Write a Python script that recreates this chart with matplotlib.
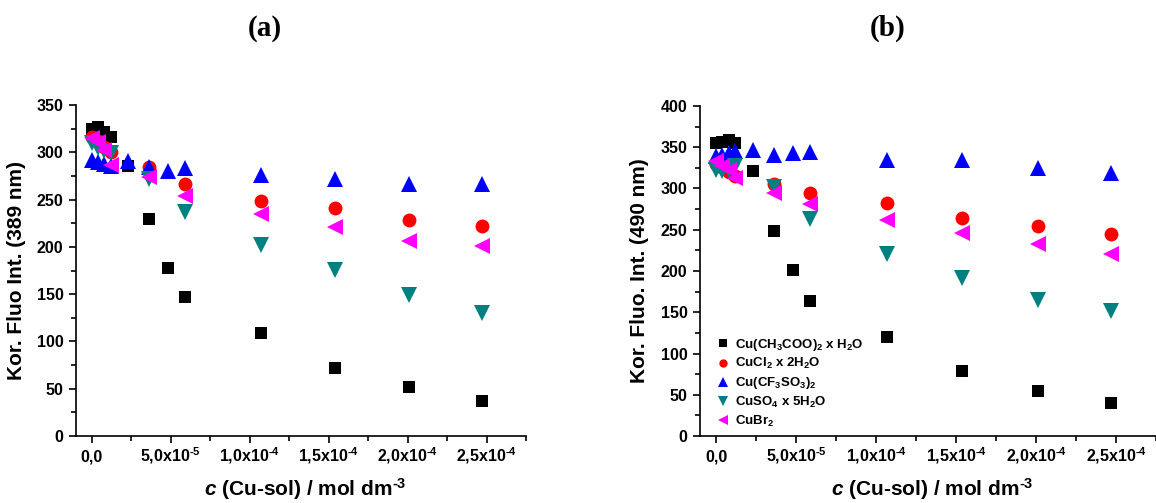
import matplotlib
matplotlib.use('Agg')
import matplotlib.pyplot as plt
from matplotlib.ticker import MultipleLocator

plt.rcParams['font.family'] = ['Liberation Sans', 'DejaVu Sans']
plt.rcParams['font.weight'] = 'bold'
plt.rcParams['mathtext.fontset'] = 'custom'
plt.rcParams['mathtext.rm'] = 'Liberation Sans:bold'
plt.rcParams['mathtext.it'] = 'Liberation Sans:italic:bold'
plt.rcParams['mathtext.bf'] = 'Liberation Sans:bold'
plt.rcParams['mathtext.default'] = 'regular'

# ---------------- data ----------------
labels = ['Cu(CH$_3$COO)$_2$ x H$_2$O', 'CuCl$_2$ x 2H$_2$O',
          'Cu(CF$_3$SO$_3$)$_2$', 'CuSO$_4$ x 5H$_2$O', 'CuBr$_2$']
colors = ['#000000', '#FF0000', '#0000FF', '#008080', '#FF00FF']
markers = ['s', 'o', '^', 'v', '<']
msizes = [8.5, 10, 12, 12, 12]

x_acetate = [0, 0.4e-5, 0.8e-5, 1.2e-5, 2.3e-5, 3.6e-5, 4.8e-5, 5.9e-5,
             1.07e-4, 1.54e-4, 2.01e-4, 2.47e-4]
x_triflate = [0, 0.4e-5, 0.8e-5, 1.2e-5, 2.3e-5, 3.6e-5, 4.8e-5, 5.9e-5,
              1.07e-4, 1.54e-4, 2.01e-4, 2.47e-4]
x_other = [0, 0.4e-5, 0.8e-5, 1.2e-5, 3.6e-5, 5.9e-5,
           1.07e-4, 1.54e-4, 2.01e-4, 2.47e-4]

# panel (a): 389 nm
a_acetate = [325, 327, 321, 316, 286, 229, 178, 147, 109, 72, 52, 36.5]
a_chloride = [316, 312, 306, 300, 284, 266, 249, 241, 228, 222]
a_triflate = [292, 290, 288, 286, 291, 284, 280, 283, 276, 272, 266, 266]
a_sulfate = [310, 305, 301, 299, 272, 237, 202, 176, 149, 130]
a_bromide = [315, 311, 302, 287, 274, 254, 235, 221, 206, 201]

# panel (b): 490 nm
b_acetate = [355, 356, 359, 355, 321, 249, 201, 164, 120, 79, 54.5, 40.5]
b_chloride = [330, 326, 320, 315, 306, 295, 282, 264, 255, 245]
b_triflate = [339, 341, 343, 345, 346.5, 340.5, 342.5, 344, 335, 334, 325, 319]
b_sulfate = [322, 321, 323, 327, 302, 263, 221, 191, 165, 151]
b_bromide = [333, 327, 322, 313, 295, 281, 262, 246, 233, 221]

xticks = [0, 5e-5, 1e-4, 1.5e-4, 2e-4, 2.5e-4]
xticklabels = ['0,0', '5,0x10$^{\\text{-}5}$', '1,0x10$^{\\text{-}4}$',
               '1,5x10$^{\\text{-}4}$', '2,0x10$^{\\text{-}4}$',
               '2,5x10$^{\\text{-}4}$']

W, H = 1156, 503
fig = plt.figure(figsize=(W / 100, H / 100), dpi=100)


def px_axes(l, t, r, b):
    return fig.add_axes([l / W, 1 - b / H, (r - l) / W, (b - t) / H])


axA = px_axes(76, 105, 526, 436)
axB = px_axes(700, 106, 1156, 436)

xs = [x_acetate, x_other, x_triflate, x_other, x_other]
panels = [
    (axA, [a_acetate, a_chloride, a_triflate, a_sulfate, a_bromide], 350,
     'Kor. Fluo Int. (389 nm)'),
    (axB, [b_acetate, b_chloride, b_triflate, b_sulfate, b_bromide], 400,
     'Kor. Fluo. Int. (490 nm)'),
]

for ax, ys, ytop, ylab in panels:
    for x, y, c, m, ms, lab in zip(xs, ys, colors, markers, msizes, labels):
        ax.plot(x, y, linestyle='none', marker=m, color=c, markersize=ms,
                markeredgewidth=0, label=lab)
    ax.set_xlim(-1e-5, 2.75e-4)
    ax.set_ylim(0, ytop)
    ax.spines['top'].set_visible(False)
    ax.spines['right'].set_visible(False)
    for s in ('left', 'bottom'):
        ax.spines[s].set_linewidth(1.2)
    ax.set_xticks(xticks)
    ax.set_xticklabels(xticklabels)
    ax.xaxis.set_minor_locator(MultipleLocator(2.5e-5))
    ax.yaxis.set_major_locator(MultipleLocator(50))
    ax.yaxis.set_minor_locator(MultipleLocator(25))
    ax.tick_params(which='both', direction='out', width=1.2, labelsize=11.5)
    ax.tick_params(which='major', length=5)
    ax.tick_params(which='minor', length=3.5)
    ax.tick_params(axis='y', pad=4)
    ax.tick_params(axis='x', pad=13)
    for lbl in ax.get_xticklabels():
        lbl.set_verticalalignment('baseline')
    ax.set_ylabel(ylab, fontsize=15, fontweight='bold', va='center')
    ax.yaxis.set_label_coords(-0.132, 0.5)
    ax.set_xlabel('$\\mathit{c}$ (Cu-sol) / mol dm$^{\\text{-}3}$',
                  fontsize=15, fontweight='bold', va='baseline')
    ax.xaxis.set_label_coords(0.509, -60 / 330)

axB.legend(loc='upper left', bbox_to_anchor=(0.036, 0.301), frameon=False,
           fontsize=9.5, markerscale=0.6, handlelength=1.0,
           handletextpad=0.4, borderpad=0, borderaxespad=0, labelspacing=0.28)

fig.text(265 / W, 1 - 28 / H, '(a)', family='Liberation Serif',
         fontweight='bold', fontsize=21, ha='center', va='center')
fig.text(888 / W, 1 - 28 / H, '(b)', family='Liberation Serif',
         fontweight='bold', fontsize=21, ha='center', va='center')

fig.savefig('out.png', dpi=100)
